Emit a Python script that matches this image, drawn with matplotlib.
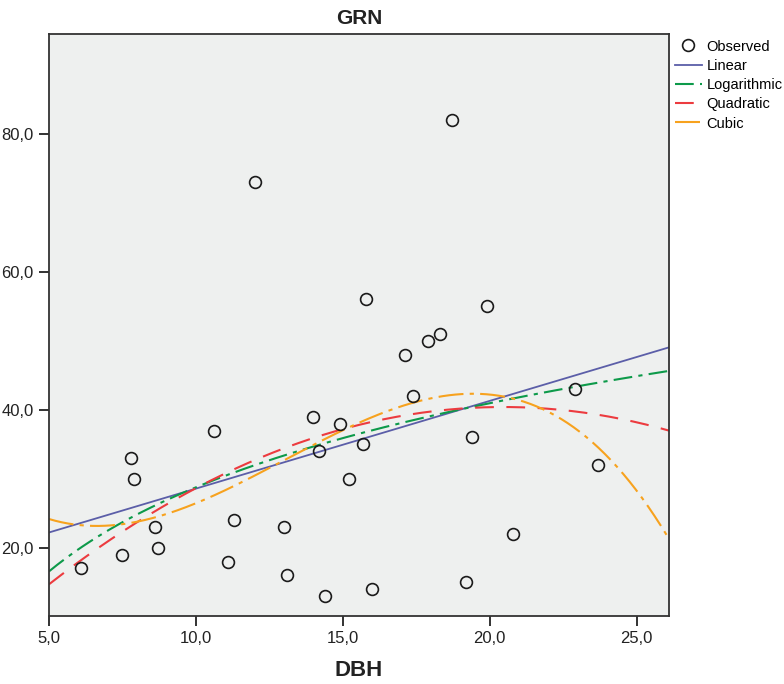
import matplotlib
matplotlib.use('Agg')
import matplotlib.pyplot as plt
import numpy as np
from matplotlib.ticker import FuncFormatter

# Observed DBH / GRN pairs
dbh = [6.1, 7.5, 7.8, 7.9, 8.6, 8.7, 10.6, 11.1, 11.3, 12.0, 13.0, 13.1, 14.0, 14.2,
       14.4, 14.9, 15.2, 15.7, 15.8, 16.0, 17.1, 17.4, 17.9, 18.3, 18.7, 19.2, 19.4,
       19.9, 20.8, 22.9, 23.7]
grn = [17, 19, 33, 30, 23, 20, 37, 18, 24, 73, 23, 16, 39, 34,
       13, 38, 30, 35, 56, 14, 48, 42, 50, 51, 82, 15, 36,
       55, 22, 43, 32]

x_ticks = [5, 10, 15, 20, 25]
y_ticks = [20, 40, 60, 80]

narrow = ['Liberation Sans Narrow', 'Liberation Sans', 'DejaVu Sans']
plt.rcParams['font.family'] = ['Liberation Sans', 'DejaVu Sans']

x = np.array(dbh)
y = np.array(grn)

# Curve estimation fits
xs = np.linspace(5.0, 26.1, 300)
lin = np.polyval(np.polyfit(x, y, 1), xs)
logc = np.polyfit(np.log(x), y, 1)
logf = logc[0] * np.log(xs) + logc[1]
quad = np.polyval(np.polyfit(x, y, 2), xs)
cub = np.polyval(np.polyfit(x, y, 3), xs)

fig = plt.figure(figsize=(7.84, 6.84), dpi=100)
ax = fig.add_axes([0.0625, 0.0994, 0.7908, 0.8509])
ax.set_facecolor('#eef0ef')

ax.plot(x, y, 'o', mfc='none', mec='#1a1a1a', ms=8.5, mew=1.2, label='Observed', zorder=5)
ax.plot(xs, lin, color='#5b5ea8', lw=1.3, label='Linear')
ax.plot(xs, logf, color='#0d9a4a', lw=1.5, dashes=(9, 3, 2, 3), label='Logarithmic')
ax.plot(xs, quad, color='#ec3b3f', lw=1.5, dashes=(9, 6), label='Quadratic')
ax.plot(xs, cub, color='#f7a21e', lw=1.5, dashes=(12, 3, 2, 3), label='Cubic')

ax.set_xlim(5.0, 26.1)
ax.set_ylim(10.1, 94.5)
ax.set_xticks(x_ticks)
ax.set_yticks(y_ticks)
fmt = FuncFormatter(lambda v, p: ('%.1f' % v).replace('.', ','))
ax.xaxis.set_major_formatter(fmt)
ax.yaxis.set_major_formatter(fmt)
ax.tick_params(direction='out', length=7, width=1.3, colors='#222222', pad=4)
for lab in ax.get_xticklabels() + ax.get_yticklabels():
    lab.set_family(narrow)
    lab.set_fontsize(12)
for s in ax.spines.values():
    s.set_color('#333333')
    s.set_linewidth(1.3)

ax.set_title('GRN', fontsize=15, fontweight='bold', pad=7, color='#222222')
ax.set_xlabel('DBH', fontsize=16, fontweight='bold', labelpad=10, color='#222222',
              family=narrow)

ax.legend(loc='upper left', bbox_to_anchor=(1.0, 1.0), frameon=False, fontsize=10.5,
          handlelength=1.9, handletextpad=0.3, labelspacing=0.36, borderaxespad=0.0,
          borderpad=0.38)

fig.savefig('out.png', dpi=100)
